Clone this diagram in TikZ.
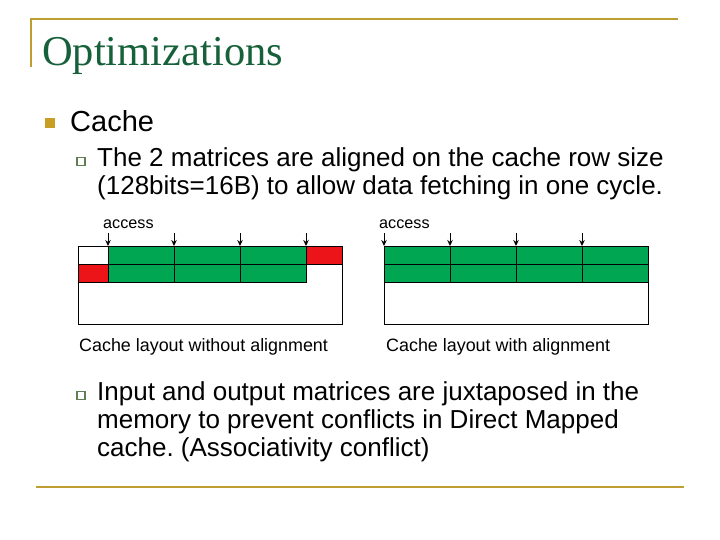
\documentclass[tikz,border=0pt]{standalone}
\usepackage{fontspec}
\setmainfont{Liberation Sans}
\newfontfamily\titlefont{Liberation Serif}
\usetikzlibrary{arrows.meta}
\definecolor{gold}{RGB}{190,158,48}
\definecolor{bulletgold}{RGB}{200,158,36}
\definecolor{titlegreen}{RGB}{22,96,58}
\definecolor{cellgreen}{RGB}{0,166,81}
\definecolor{cellred}{RGB}{236,20,24}
\definecolor{boxbullet}{RGB}{96,128,84}
\frenchspacing
\begin{document}
\begin{tikzpicture}[x=1pt, y=-1pt,
        rule/.style={draw=gold, line width=2.6pt},
        bodytext/.style={anchor=base west, inner sep=0pt, align=left,
            font=\fontsize{26}{28}\selectfont},
        small/.style={anchor=base west, inner sep=0pt, font=\fontsize{17.9}{20}\selectfont},
        tiny/.style={anchor=base west, inner sep=0pt, font=\fontsize{16.2}{18}\selectfont},
        subbullet/.style={draw=boxbullet, line width=1.1pt},
        cell/.style={rectangle, draw=black, line width=0.8pt, anchor=north west, inner sep=0pt,
            minimum width=66pt, minimum height=18pt, fill=cellgreen},
        redcell/.style={cell, fill=cellred, minimum width=#1},
        memory/.style={draw=black, line width=0.8pt},
        access/.style={-{Stealth[length=6pt,width=5.5pt]}, line width=1pt}
    ]
    \useasboundingbox (0,0) rectangle (720,540);

    % frame of the slide
    \draw[rule] (30,19) -- (678,19);
    \draw[rule] (31,19) -- (31,67);
    \draw[rule] (36,487) -- (684,487);

    \node[anchor=base west, inner sep=0pt, text=titlegreen,
        font=\titlefont\fontsize{42.5}{46}\selectfont] (title) at (42,66) {Optimizations};

    % bullets
    \fill[bulletgold] (45,118) rectangle (55,128);
    \node[anchor=base west, inner sep=0pt, font=\fontsize{29}{32}\selectfont] (cache) at (70,132) {Cache};
    \draw[subbullet] (77,157.5) rectangle (85,165.5);
    \node[bodytext] (aligned) at (97,195) {The 2 matrices are aligned on the cache row size\\(128bits=16B) to allow data fetching in one cycle.};
    \draw[subbullet] (77,391.5) rectangle (85,399.5);
    \node[bodytext] (juxta) at (97,456) {Input and output matrices are juxtaposed in the\\memory to prevent conflicts in Direct Mapped\\cache. (Associativity conflict)};

    % cache without alignment
    \draw[memory] (78,246) rectangle (342,324);
    \foreach \i/\x in {1/108, 2/174, 3/240} {
        \node[cell] (la\i) at (\x,246) {};
        \node[cell] (lb\i) at (\x,264) {};
    }
    \node[redcell=36pt] (lred1) at (306,246) {};
    \node[redcell=30pt] (lred2) at (78,264) {};
    \node[tiny] (laccess) at (103,229) {access};
    \foreach \i in {1,2,3} {
        \coordinate (lp\i) at ([yshift=13pt]la\i.north west);
        \draw[access] (lp\i) -- (la\i.north west);
    }
    \coordinate (lp4) at ([yshift=13pt]lred1.north west);
    \draw[access] (lp4) -- (lred1.north west);
    \node[small] (lcap) at (79,351) {Cache layout without alignment};

    % cache with alignment
    \draw[memory] (384,246) rectangle (648,324);
    \foreach \i/\x in {1/384, 2/450, 3/516, 4/582} {
        \node[cell] (ra\i) at (\x,246) {};
        \node[cell] (rb\i) at (\x,264) {};
        \coordinate (rp\i) at ([yshift=13pt]ra\i.north west);
        \draw[access] (rp\i) -- (ra\i.north west);
    }
    \node[tiny] (raccess) at (379,229) {access};
    \node[small] (rcap) at (386,351) {Cache layout with alignment};
\end{tikzpicture}
\end{document}
